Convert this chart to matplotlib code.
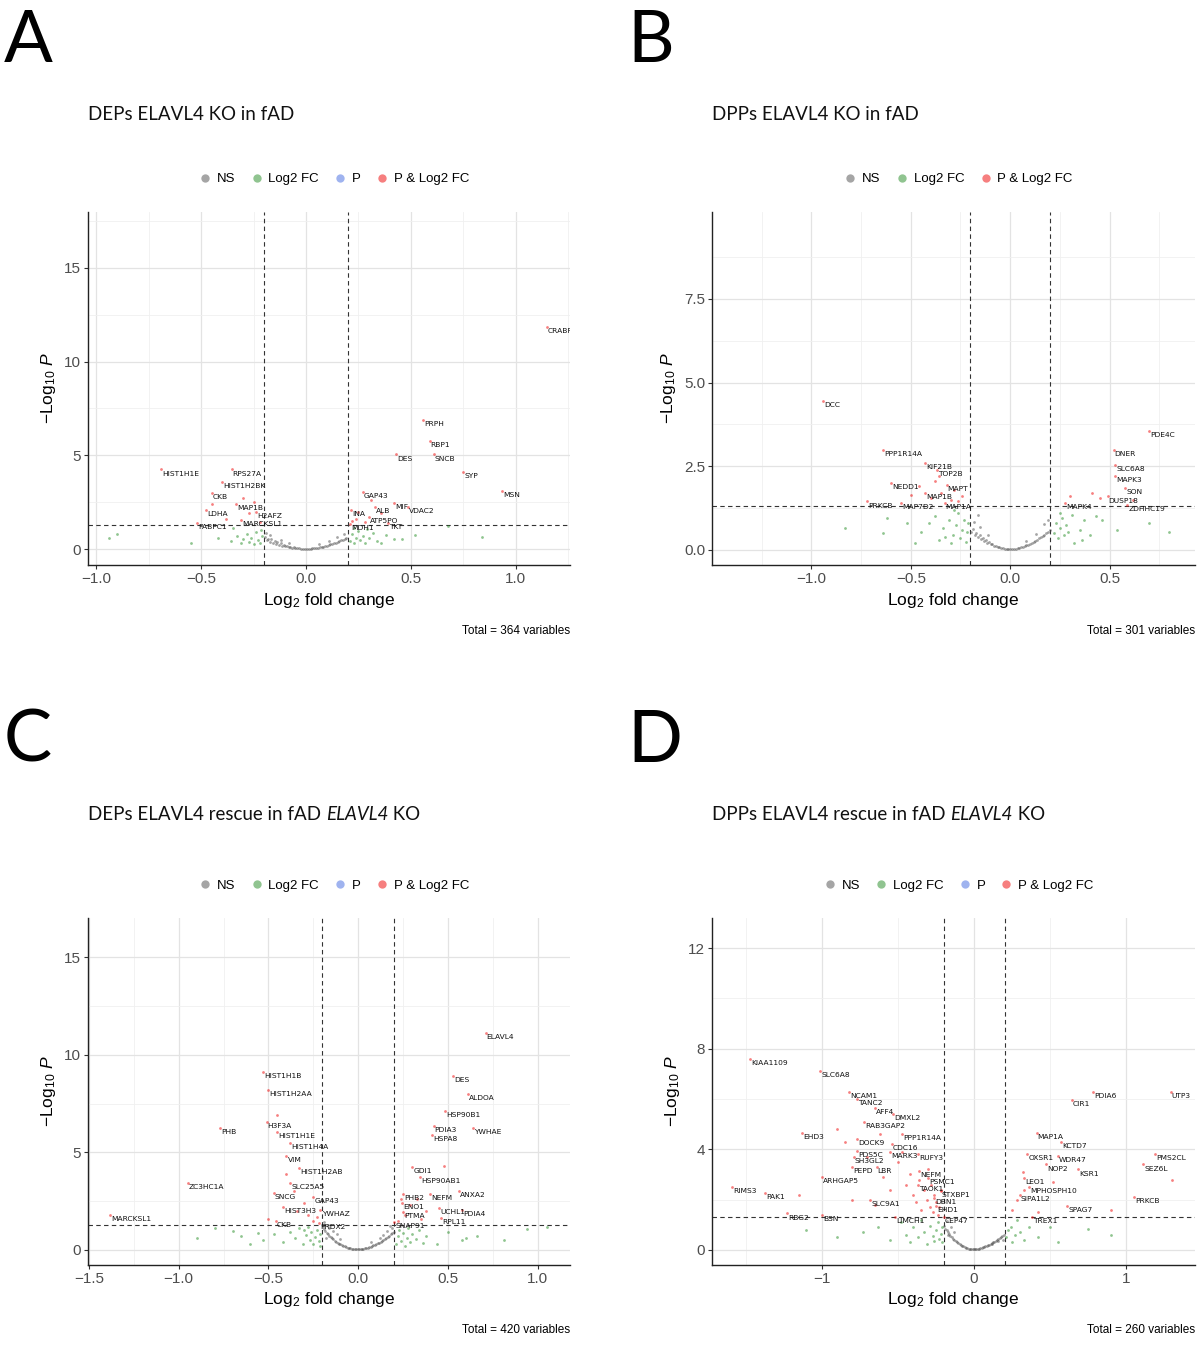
import matplotlib
matplotlib.use("Agg")
import matplotlib.pyplot as plt
from matplotlib.lines import Line2D

plt.rcParams['font.family'] = ['Liberation Sans', 'DejaVu Sans']
plt.rcParams['mathtext.fontset'] = 'custom'
plt.rcParams['mathtext.rm'] = 'Liberation Sans'
plt.rcParams['mathtext.it'] = 'Liberation Sans:italic'

# ---------------- panel A: DEPs ELAVL4 KO in fAD ----------------
A_ns_x = [-0.195, -0.188, -0.181, -0.172, -0.166, -0.158, -0.150, -0.143, -0.137, -0.128, -0.121, -0.113,
          -0.105, -0.098, -0.090, -0.082, -0.074, -0.066, -0.058, -0.050, -0.041, -0.033, -0.024, -0.015,
          -0.006, 0.004, 0.013, 0.022, 0.031, 0.040, 0.049, 0.057, 0.066, 0.075, 0.083, 0.091, 0.100,
          0.108, 0.117, 0.125, 0.134, 0.142, 0.151, 0.160, 0.168, 0.176, 0.185, 0.193, -0.17, -0.12,
          0.15, 0.11, -0.19, 0.18, -0.08, 0.06]
A_ns_y = [0.62, 0.48, 0.55, 0.40, 0.52, 0.33, 0.44, 0.29, 0.36, 0.24, 0.30, 0.19, 0.22, 0.15, 0.17, 0.11,
          0.13, 0.08, 0.09, 0.06, 0.05, 0.04, 0.03, 0.02, 0.02, 0.02, 0.02, 0.03, 0.04, 0.05, 0.06, 0.08,
          0.10, 0.12, 0.13, 0.16, 0.19, 0.22, 0.25, 0.28, 0.30, 0.34, 0.38, 0.41, 0.46, 0.50, 0.55, 0.60,
          0.75, 0.50, 0.65, 0.45, 0.85, 0.80, 0.30, 0.25]
A_fc_x = [-0.94, -0.90, -0.55, -0.42, -0.36, -0.33, -0.31, -0.30, -0.28, -0.27, -0.26, -0.25, -0.24,
          -0.23, -0.22, -0.21, -0.215, -0.35, 0.21, 0.22, 0.23, 0.24, 0.25, 0.26, 0.27, 0.28, 0.30, 0.32,
          0.34, 0.36, 0.38, 0.42, 0.46, 0.52, 0.68, 0.84, 0.23, 0.29]
A_fc_y = [0.60, 0.80, 0.35, 0.60, 0.45, 0.70, 0.30, 0.55, 0.80, 0.40, 0.60, 0.25, 0.90, 0.50, 0.35,
          0.70, 1.00, 1.10, 0.45, 0.80, 0.30, 0.60, 0.95, 0.50, 0.70, 0.35, 0.60, 0.85, 0.45, 0.30, 0.75,
          0.55, 0.55, 0.75, 1.25, 0.64, 1.10, 1.05]
A_sig_x = [-0.30, -0.27, -0.38, -0.45, 0.25, 0.24, 0.31, 0.28, 0.36, 0.22, -0.22, -0.25]
A_sig_y = [2.7, 1.9, 1.6, 2.4, 2.0, 1.6, 2.6, 1.45, 1.9, 1.5, 1.45, 2.5]
A_lab = ['CRABP1', 'PRPH', 'RBP1', 'DES', 'SNCB', 'SYP', 'MSN', 'GAP43', 'ALB', 'MIF', 'VDAC2', 'INA',
         'ATP5PO', 'TKT', 'MDH1', 'HIST1H1E', 'RPS27A', 'HIST1H2BK', 'CKB', 'MAP1B', 'H2AFZ', 'LDHA',
         'MARCKSL1', 'PABPC1']
A_lab_x = [1.15, 0.56, 0.59, 0.43, 0.61, 0.75, 0.935, 0.27, 0.33, 0.42, 0.485, 0.215, 0.30, 0.39, 0.21,
           -0.69, -0.355, -0.40, -0.45, -0.335, -0.24, -0.475, -0.31, -0.52]
A_lab_y = [11.85, 6.9, 5.75, 5.05, 5.05, 4.1, 3.1, 3.05, 2.25, 2.45, 2.25, 2.1, 1.7, 1.4, 1.35,
           4.25, 4.25, 3.6, 3.0, 2.4, 2.0, 2.1, 1.55, 1.4]

# ---------------- panel B: DPPs ELAVL4 KO in fAD ----------------
B_ns_x = [-0.196, -0.187, -0.179, -0.170, -0.163, -0.154, -0.146, -0.139, -0.131, -0.122, -0.114, -0.106,
          -0.097, -0.089, -0.080, -0.071, -0.062, -0.054, -0.045, -0.036, -0.027, -0.018, -0.009, 0.001,
          0.010, 0.019, 0.028, 0.037, 0.046, 0.055, 0.064, 0.073, 0.082, 0.091, 0.100, 0.109, 0.118,
          0.127, 0.136, 0.145, 0.154, 0.163, 0.172, 0.181, 0.190, 0.198, -0.18, -0.15, -0.11, 0.13,
          0.17, 0.19, -0.16, 0.08]
B_ns_y = [0.55, 0.62, 0.44, 0.51, 0.38, 0.45, 0.33, 0.36, 0.27, 0.30, 0.22, 0.24, 0.17, 0.18, 0.13, 0.12,
          0.09, 0.08, 0.06, 0.05, 0.04, 0.03, 0.02, 0.02, 0.02, 0.03, 0.04, 0.05, 0.06, 0.08, 0.10, 0.12,
          0.14, 0.16, 0.19, 0.22, 0.25, 0.28, 0.31, 0.35, 0.38, 0.42, 0.46, 0.50, 0.55, 0.60, 0.85,
          0.70, 0.45, 0.48, 0.78, 0.90, 1.05, 0.28]
B_fc_x = [-0.83, -0.64, -0.52, -0.41, -0.36, -0.30, -0.38, -0.34, -0.31, -0.29, -0.27, -0.26, -0.25,
          -0.24, -0.23, -0.22, -0.215, -0.21, -0.28, -0.33, -0.45, -0.48, -0.62, 0.22, 0.23, 0.24, 0.25,
          0.26, 0.27, 0.28, 0.29, 0.32, 0.36, 0.37, 0.43, 0.46, 0.54, 0.70, 0.80, 0.35, 0.40, 0.25, 0.31]
B_fc_y = [0.65, 0.50, 0.80, 0.80, 0.30, 0.20, 1.00, 0.65, 0.90, 0.45, 0.75, 1.10, 0.35, 0.60, 0.90,
          0.25, 0.55, 0.80, 1.20, 0.40, 0.55, 0.20, 0.95, 0.50, 0.80, 0.35, 0.65, 0.95, 0.45, 0.75, 0.55,
          0.20, 0.30, 0.90, 1.00, 0.90, 0.60, 0.80, 0.55, 0.60, 0.45, 1.10, 1.05]
B_sig_x = [-0.50, -0.46, -0.40, -0.38, -0.35, -0.30, -0.28, -0.26, -0.24, -0.36, 0.30, 0.45, 0.41, 0.62]
B_sig_y = [1.65, 1.9, 1.55, 2.05, 1.7, 1.5, 1.8, 1.45, 1.6, 2.2, 1.6, 1.55, 1.7, 1.5]
B_lab = ['DCC', 'PPP1R14A', 'KIF21B', 'TOP2B', 'NEDD1', 'MAPT', 'MAP1B', 'PRKCB', 'MAP7D2', 'MAP1A',
         'PDE4C', 'DNER', 'SLC6A8', 'MAPK3', 'SON', 'DUSP18', 'ZDHHC19', 'MAPK4']
B_lab_x = [-0.94, -0.64, -0.43, -0.37, -0.60, -0.32, -0.43, -0.72, -0.55, -0.33,
           0.70, 0.52, 0.53, 0.53, 0.58, 0.49, 0.59, 0.275]
B_lab_y = [4.45, 3.0, 2.6, 2.4, 2.0, 1.95, 1.7, 1.45, 1.4, 1.4,
           3.55, 3.0, 2.55, 2.2, 1.85, 1.6, 1.35, 1.4]

# ---------------- panel C: DEPs ELAVL4 rescue ----------------
C_ns_x = [-0.198, -0.191, -0.184, -0.176, -0.169, -0.161, -0.153, -0.146, -0.138, -0.130, -0.122, -0.115,
          -0.107, -0.099, -0.091, -0.083, -0.075, -0.067, -0.059, -0.051, -0.043, -0.035, -0.027, -0.019,
          -0.011, -0.003, 0.005, 0.013, 0.021, 0.029, 0.037, 0.045, 0.053, 0.061, 0.069, 0.077, 0.085,
          0.093, 0.101, 0.109, 0.117, 0.125, 0.133, 0.141, 0.149, 0.157, 0.165, 0.173, 0.181, 0.189,
          0.197, -0.19, -0.17, -0.14, -0.12, -0.18, 0.16, 0.19, 0.14, -0.10, 0.12, -0.16, 0.18, 0.07]
C_ns_y = [1.20, 1.05, 0.95, 0.88, 0.80, 0.74, 0.66, 0.60, 0.55, 0.48, 0.43, 0.38, 0.33, 0.29, 0.25, 0.21,
          0.18, 0.15, 0.12, 0.10, 0.08, 0.06, 0.05, 0.04, 0.03, 0.03, 0.03, 0.04, 0.05, 0.06, 0.08, 0.10,
          0.12, 0.14, 0.17, 0.20, 0.23, 0.26, 0.30, 0.34, 0.38, 0.42, 0.47, 0.52, 0.57, 0.62, 0.68, 0.74,
          0.80, 0.86, 0.93, 1.45, 1.30, 0.95, 0.80, 0.60, 0.95, 1.15, 0.75, 0.55, 0.60, 1.10, 1.25, 0.40]
C_fc_x = [-0.80, -0.70, -0.65, -0.56, -0.53, -0.47, -0.42, -0.38, -0.35, -0.33, -0.31, -0.29, -0.28,
          -0.27, -0.26, -0.25, -0.24, -0.23, -0.22, -0.215, -0.21, -0.30, -0.60, -0.90,
          0.21, 0.22, 0.23, 0.24, 0.25, 0.26, 0.27, 0.28, 0.29, 0.30, 0.32, 0.34, 0.36, 0.38, 0.50, 0.58,
          0.60, 0.66, 0.81, 0.94, 1.05, 0.44]
C_fc_y = [1.10, 0.95, 0.70, 0.85, 0.50, 0.80, 0.40, 0.90, 0.60, 1.10, 0.30, 0.75, 1.20, 0.50, 0.90,
          0.30, 0.65, 1.00, 0.45, 0.80, 0.20, 1.00, 0.30, 0.60,
          0.30, 0.70, 1.00, 0.45, 0.85, 0.20, 0.60, 1.10, 0.40, 0.80, 0.55, 1.00, 0.35, 0.70, 0.90, 0.50,
          0.60, 0.70, 0.50, 1.05, 1.20, 0.30]
C_sig_x = [-0.45, -0.36, -0.30, -0.28, -0.25, -0.34, -0.40, -0.23, -0.50, 0.22, 0.26, 0.29, 0.33, 0.35,
           0.38, 0.24, 0.48]
C_sig_y = [6.9, 3.0, 2.4, 1.8, 1.5, 2.0, 3.9, 1.7, 1.6, 1.5, 1.8, 2.3, 2.6, 1.6, 2.0, 2.6, 4.3]
C_lab = ['ELAVL4', 'DES', 'ALDOA', 'HSP90B1', 'PDIA3', 'HSPA8', 'YWHAE', 'GDI1', 'HSP90AB1', 'ANXA2',
         'PHB2', 'NEFM', 'UCHL1', 'PDIA4', 'ENO1', 'PTMA', 'RPL11', 'SNAP91',
         'HIST1H1B', 'HIST1H2AA', 'H3F3A', 'PHB', 'HIST1H1E', 'HIST1H4A', 'VIM', 'HIST1H2AB', 'SLC25A5',
         'SNCG', 'GAP43', 'HIST3H3', 'YWHAZ', 'ZC3HC1A', 'MARCKSL1', 'CKB', 'PRDX2']
C_lab_x = [0.71, 0.53, 0.61, 0.485, 0.42, 0.41, 0.64, 0.30, 0.345, 0.56,
           0.25, 0.40, 0.45, 0.58, 0.245, 0.25, 0.46, 0.20,
           -0.53, -0.50, -0.51, -0.77, -0.45, -0.38, -0.40, -0.33, -0.38,
           -0.47, -0.25, -0.42, -0.21, -0.95, -1.38, -0.46, -0.22]
C_lab_y = [11.1, 8.9, 8.0, 7.1, 6.35, 5.9, 6.25, 4.25, 3.75, 3.0,
           2.85, 2.85, 2.15, 2.05, 2.4, 1.95, 1.65, 1.45,
           9.1, 8.2, 6.55, 6.25, 6.05, 5.5, 4.8, 4.2, 3.45,
           2.9, 2.7, 2.2, 2.05, 3.45, 1.8, 1.5, 1.4]

# ---------------- panel D: DPPs ELAVL4 rescue ----------------
D_ns_x = [-0.197, -0.189, -0.180, -0.172, -0.163, -0.155, -0.146, -0.138, -0.129, -0.121, -0.112, -0.104,
          -0.095, -0.087, -0.078, -0.070, -0.061, -0.053, -0.044, -0.036, -0.027, -0.019, -0.010, -0.002,
          0.007, 0.015, 0.024, 0.032, 0.041, 0.049, 0.058, 0.066, 0.075, 0.083, 0.092, 0.100, 0.109,
          0.117, 0.126, 0.134, 0.143, 0.151, 0.160, 0.168, 0.177, 0.185, 0.194, -0.18, -0.15, -0.13,
          0.16, 0.19, -0.17, 0.12]
D_ns_y = [0.95, 0.85, 0.78, 0.70, 0.63, 0.57, 0.51, 0.45, 0.40, 0.35, 0.31, 0.27, 0.23, 0.20, 0.17, 0.14,
          0.11, 0.09, 0.07, 0.05, 0.04, 0.03, 0.02, 0.02, 0.02, 0.03, 0.04, 0.05, 0.07, 0.08, 0.10, 0.12,
          0.14, 0.16, 0.19, 0.21, 0.24, 0.27, 0.30, 0.33, 0.36, 0.40, 0.43, 0.47, 0.51, 0.55, 0.60,
          1.15, 0.90, 0.70, 0.35, 0.40, 0.60, 0.25]
D_fc_x = [-0.73, -0.63, -0.55, -0.48, -0.45, -0.42, -0.40, -0.37, -0.35, -0.33, -0.31, -0.29, -0.27,
          -0.26, -0.25, -0.24, -0.23, -0.22, -0.21, -0.21, -0.90, -1.10,
          0.21, 0.22, 0.24, 0.25, 0.27, 0.28, 0.30, 0.33, 0.36, 0.42, 0.50, 0.55, 0.75, 0.90]
D_fc_y = [0.70, 0.90, 0.40, 1.10, 0.60, 0.30, 0.90, 0.50, 1.20, 0.70, 0.25, 0.95, 0.55, 0.35, 0.80,
          1.10, 0.45, 0.65, 0.30, 0.90, 0.50, 0.80,
          0.50, 0.80, 0.90, 0.30, 0.60, 1.20, 0.70, 0.40, 0.90, 0.50, 0.90, 0.30, 0.85, 0.60]
D_sig_x = [-0.45, -0.42, -0.40, -0.38, -0.36, -0.35, -0.33, -0.31, -0.30, -0.29, -0.28, -0.27, -0.26,
           -0.25, -0.24, -0.23, -0.22, -0.50, -0.55, -0.60, -0.70, -0.85, -0.90, -0.62, -0.47, -0.65,
           -0.80, -1.15, 0.25, 0.28, 0.33, 0.42, 0.52, 0.90, 1.30, 0.32]
D_sig_y = [2.6, 3.0, 2.2, 1.9, 2.8, 1.6, 2.4, 2.0, 3.2, 1.7, 2.6, 1.5, 2.2, 1.9, 1.4, 1.7, 2.4, 3.5,
           2.4, 2.9, 3.7, 4.3, 4.8, 4.6, 3.9, 1.8, 2.0, 2.2, 1.6, 2.0, 2.4, 1.5, 2.7, 1.6, 2.8, 3.1]
D_lab = ['KIAA1109', 'SLC6A8', 'NCAM1', 'TANC2', 'AFF4', 'DMXL2', 'RAB3GAP2', 'PPP1R14A', 'EHD3', 'DOCK9',
         'CDC16', 'PDS5C', 'MARK3', 'SH3GL2', 'RUFY3', 'PEPD', 'LBR', 'NEFM', 'PSMC1', 'ARHGAP5',
         'TAOK1', 'STXBP1', 'DBN1', 'EHD1', 'RIMS3', 'PAK1', 'SLC9A1', 'RBG2', 'BSN', 'LIMCH1',
         'CEP47', 'PDIA6', 'CIR1', 'UTP3', 'MAP1A', 'KCTD7', 'OXSR1', 'WDR47', 'NOP2', 'KSR1',
         'PMS2CL', 'SEZ6L', 'LEO1', 'MPHOSPH10', 'SIPA1L2', 'PRKCB', 'SPAG7', 'TREX1']
D_lab_x = [-1.47, -1.01, -0.82, -0.77, -0.65, -0.53, -0.72, -0.47, -1.13, -0.77,
           -0.54, -0.77, -0.55, -0.79, -0.37, -0.80, -0.64, -0.36, -0.30, -1.0,
           -0.37, -0.22, -0.26, -0.25, -1.59, -1.37, -0.68, -1.23, -1.0, -0.52,
           -0.2, 0.78, 0.64, 1.29, 0.41, 0.57, 0.35, 0.55, 0.47, 0.68,
           1.19, 1.11, 0.33, 0.36, 0.30, 1.05, 0.61, 0.38]
D_lab_y = [7.6, 7.1, 6.3, 6.0, 5.65, 5.4, 5.1, 4.6, 4.65, 4.4,
           4.2, 3.95, 3.9, 3.7, 3.8, 3.3, 3.3, 3.15, 2.85, 2.9,
           2.6, 2.35, 2.05, 1.75, 2.5, 2.25, 2.0, 1.45, 1.4, 1.3,
           1.3, 6.3, 5.95, 6.3, 4.65, 4.3, 3.8, 3.75, 3.4, 3.2,
           3.8, 3.4, 2.85, 2.5, 2.2, 2.1, 1.75, 1.3]

# colours as in EnhancedVolcano (grey30, forestgreen, royalblue, red2 at alpha 0.5)
COL_NS = '#4d4d4d'
COL_FC = '#228b22'
COL_P = '#4169e1'
COL_SIG = '#ee0000'

fig = plt.figure(figsize=(12, 13.49), dpi=100)
W, H = 1200, 1349


def add_axes(l, t, r, b):
    return fig.add_axes([l / W, 1 - b / H, (r - l) / W, (b - t) / H])


def volcano(ax, ns, fc, sig, lab, xlim, ylim, xticks, yticks, ytl, total, show_p, leg_x):
    ax.set_xticks(xticks)
    ax.set_yticks(yticks)
    if ytl is not None:
        ax.set_yticklabels(ytl)
    step_x = xticks[1] - xticks[0]
    step_y = yticks[1] - yticks[0]
    minor_x = [xticks[0] - step_x / 2] + [t + step_x / 2 for t in xticks]
    minor_y = [t + step_y / 2 for t in yticks]
    ax.set_xticks(minor_x, minor=True)
    ax.set_yticks(minor_y, minor=True)
    ax.set_xlim(*xlim)
    ax.set_ylim(*ylim)
    ax.grid(True, which='major', color='#e3e3e3', lw=0.9)
    ax.grid(True, which='minor', color='#f0f0f0', lw=0.6)
    ax.set_axisbelow(True)
    ax.tick_params(which='minor', length=0)
    ax.tick_params(which='major', direction='out', length=3, width=0.8, color='#333333',
                   labelcolor='#4d4d4d', labelsize=11, pad=2)
    for s in ['top', 'right']:
        ax.spines[s].set_visible(False)
    for s in ['left', 'bottom']:
        ax.spines[s].set_linewidth(1.0)
        ax.spines[s].set_color('#222222')

    ax.scatter(ns[0], ns[1], s=4, color=COL_NS, alpha=0.5, lw=0, zorder=3)
    ax.scatter(fc[0], fc[1], s=4, color=COL_FC, alpha=0.5, lw=0, zorder=3)
    ax.scatter(sig[0], sig[1], s=4, color=COL_SIG, alpha=0.5, lw=0, zorder=3)
    ax.scatter(lab[1], lab[2], s=4, color=COL_SIG, alpha=0.5, lw=0, zorder=3)
    for g, x, y in zip(*lab):
        ax.annotate(g, (x, y), xytext=(0.8, -0.8), textcoords='offset points', ha='left', va='top',
                    fontsize=5.4, color='#111111', family='DejaVu Sans', zorder=4,
                    annotation_clip=False, clip_on=True)

    ax.axvline(-0.2, color='#333333', lw=0.8, ls=(0, (4, 3)), zorder=2)
    ax.axvline(0.2, color='#333333', lw=0.8, ls=(0, (4, 3)), zorder=2)
    ax.axhline(1.30103, color='#333333', lw=0.8, ls=(0, (4, 3)), zorder=2)

    ax.text(0.5, -0.1, r'Log$_2$ fold change', transform=ax.transAxes, ha='center', va='center',
            fontsize=12.5, color='black')
    ax.set_ylabel(r'$-$Log$_{10}$ $\it{P}$', fontsize=12.5, labelpad=4)
    ax.text(1.0, -0.186, 'Total = %d variables' % total, transform=ax.transAxes, ha='right',
            va='center', fontsize=8.5, color='black')

    entries = [('NS', COL_NS), ('Log2 FC', COL_FC)]
    if show_p:
        entries.append(('P', COL_P))
    entries.append(('P & Log2 FC', COL_SIG))
    handles = [Line2D([], [], ls='none', marker='o', markersize=6, markeredgewidth=0,
                      color=c, alpha=0.5, label=n) for n, c in entries]
    ax.legend(handles=handles, loc='center', bbox_to_anchor=(leg_x, 1.093), ncol=len(handles),
              frameon=False, fontsize=9.5, handlelength=1.0, handletextpad=0.4, columnspacing=1.1,
              borderaxespad=0)


axA = add_axes(88, 212, 570, 565)
volcano(axA, (A_ns_x, A_ns_y), (A_fc_x, A_fc_y), (A_sig_x, A_sig_y), (A_lab, A_lab_x, A_lab_y),
        (-1.04, 1.26), (-0.85, 17.98), [-1.0, -0.5, 0.0, 0.5, 1.0], [0, 5, 10, 15], None, 364, True, 0.51)

axB = add_axes(712, 212, 1195, 565)
volcano(axB, (B_ns_x, B_ns_y), (B_fc_x, B_fc_y), (B_sig_x, B_sig_y), (B_lab, B_lab_x, B_lab_y),
        (-1.5, 0.93), (-0.45, 10.1), [-1.0, -0.5, 0.0, 0.5], [0, 2.5, 5.0, 7.5],
        ['0.0', '2.5', '5.0', '7.5'], 301, False, 0.51)

axC = add_axes(88, 918, 570, 1265)
volcano(axC, (C_ns_x, C_ns_y), (C_fc_x, C_fc_y), (C_sig_x, C_sig_y), (C_lab, C_lab_x, C_lab_y),
        (-1.505, 1.18), (-0.77, 17.0), [-1.5, -1.0, -0.5, 0.0, 0.5, 1.0], [0, 5, 10, 15], None, 420,
        True, 0.51)

axD = add_axes(712, 918, 1195, 1265)
volcano(axD, (D_ns_x, D_ns_y), (D_fc_x, D_fc_y), (D_sig_x, D_sig_y), (D_lab, D_lab_x, D_lab_y),
        (-1.72, 1.45), (-0.6, 13.2), [-1, 0, 1], [0, 4, 8, 12], None, 260, True, 0.51)

# titles and panel letters
renderer = fig.canvas.get_renderer()


def title(x_px, y_px, pieces):
    x = x_px / W
    for txt, style in pieces:
        t = fig.text(x, 1 - y_px / H, txt, fontsize=13.5, family='Lato', style=style,
                     ha='left', va='center', color='#111111')
        x += t.get_window_extent(renderer=renderer).width / fig.bbox.width


title(88, 115, [('DEPs ELAVL4 KO in fAD', 'normal')])
title(712, 115, [('DPPs ELAVL4 KO in fAD', 'normal')])
title(88, 815, [('DEPs ELAVL4 rescue in fAD ', 'normal'), ('ELAVL4', 'italic'), (' KO', 'normal')])
title(712, 815, [('DPPs ELAVL4 rescue in fAD ', 'normal'), ('ELAVL4', 'italic'), (' KO', 'normal')])

for letter, x_px, y_px in [('A', 4, 41), ('B', 627, 41), ('C', 4, 741), ('D', 627, 741)]:
    fig.text(x_px / W, 1 - y_px / H, letter, fontsize=52, family='Lato', ha='left', va='center',
             color='black')

fig.savefig('out.png', dpi=100)
